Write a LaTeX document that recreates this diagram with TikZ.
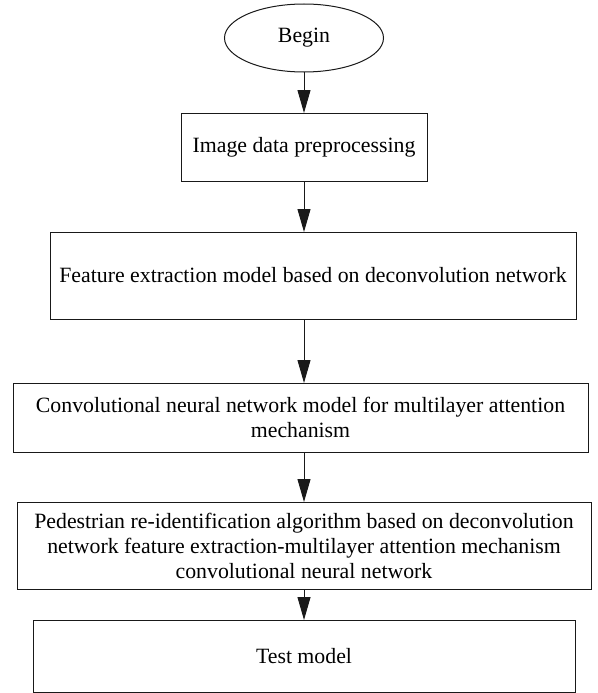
\documentclass[tikz,border=0pt]{standalone}
\usepackage{fontspec}
\setmainfont{Liberation Serif}
\usetikzlibrary{shapes.geometric,arrows.meta}
\begin{document}
\begin{tikzpicture}[x=1pt,y=-1pt,
  every node/.style={font=\fontsize{21.8}{25}\selectfont, inner sep=0pt, outer sep=0pt},
  procbox/.style={draw=black!90, line width=1pt, rectangle, align=center},
  termnode/.style={draw=black!90, line width=1pt, ellipse},
  flow/.style={draw=black!90, line width=1pt, -{Triangle[length=23pt,width=13pt]}}]
\useasboundingbox (0,0) rectangle (597,693);
\node[termnode, minimum width=159pt, minimum height=68pt] (begin) at (304,38) {Begin};
\node[procbox, minimum width=246pt, minimum height=68pt] (b1) at (304,147) {Image data preprocessing};
\node[procbox, minimum width=526pt, minimum height=87pt] (b2) at (313,275.5) {Feature extraction model based on deconvolution network};
\node[procbox, minimum width=575pt, minimum height=69pt] (b3) at (300.5,417.5) {Convolutional neural network model for multilayer attention\\mechanism};
\node[procbox, minimum width=574pt, minimum height=87pt] (b4) at (304,545.5) {Pedestrian re-identification algorithm based on deconvolution\\network feature extraction-multilayer attention mechanism\\convolutional neural network};
\node[procbox, minimum width=542pt, minimum height=72pt] (b5) at (304,656) {Test model};
\draw[flow] (begin) -- (b1);
\draw[flow] (b1) -- (b2.north -| b1);
\draw[flow] (b2.south -| b1) -- (b3.north -| b1);
\draw[flow] (b3.south -| b1) -- (b4);
\draw[flow] (b4) -- (b5);
\end{tikzpicture}
\end{document}
